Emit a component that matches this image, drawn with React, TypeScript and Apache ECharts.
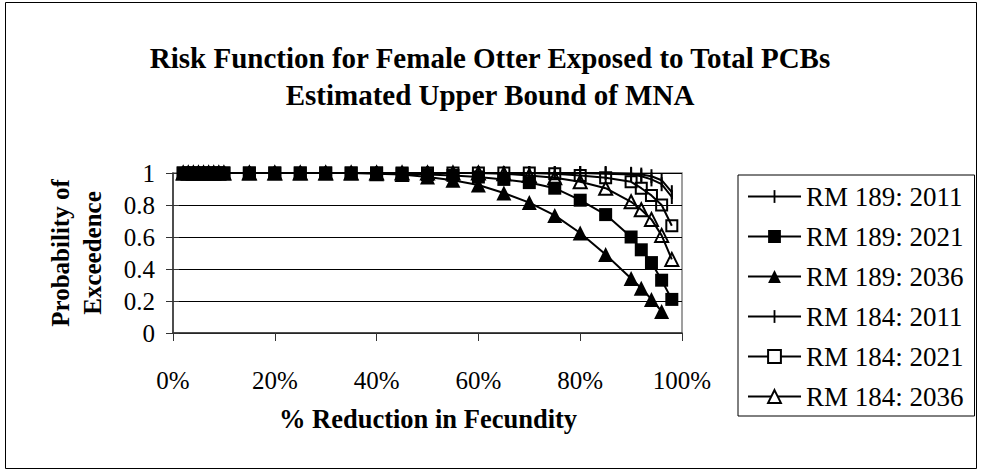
import React, { useEffect, useRef } from "react";
import * as echarts from "echarts";

const X_PCT = [2, 3, 4, 5, 6, 7, 8, 9, 10, 15, 20, 25, 30, 35, 40, 45, 50, 55, 60, 65, 70, 75, 80, 85, 90, 92, 94, 96, 98];
const RM189_2011 = [1, 1, 1, 1, 1, 1, 1, 1, 1, 1, 1, 1, 1, 1, 1, 1, 1, 1, 1, 1, 1, 1, 1, 0.995, 0.99, 0.98, 0.96, 0.93, 0.85];
const RM189_2021 = [1, 1, 1, 1, 1, 1, 1, 1, 1, 1, 1, 1, 1, 1, 1, 0.995, 0.99, 0.985, 0.975, 0.96, 0.94, 0.905, 0.83, 0.74, 0.6, 0.52, 0.44, 0.33, 0.21];
const RM189_2036 = [1, 1, 1, 1, 1, 1, 1, 1, 1, 1, 1, 1, 1, 1, 0.995, 0.99, 0.975, 0.955, 0.925, 0.875, 0.815, 0.735, 0.625, 0.49, 0.34, 0.28, 0.21, 0.135, null];
const RM184_2011 = [1, 1, 1, 1, 1, 1, 1, 1, 1, 1, 1, 1, 1, 1, 1, 1, 1, 1, 1, 1, 1, 1, 1, 1, 0.995, 0.99, 0.98, 0.955, 0.88];
const RM184_2021 = [1, 1, 1, 1, 1, 1, 1, 1, 1, 1, 1, 1, 1, 1, 1, 1, 1, 1, 1, 1, 1, 0.995, 0.985, 0.97, 0.945, 0.905, 0.86, 0.8, 0.67];
const RM184_2036 = [1, 1, 1, 1, 1, 1, 1, 1, 1, 1, 1, 1, 1, 1, 1, 1, 1, 1, 1, 0.995, 0.985, 0.97, 0.945, 0.905, 0.82, 0.77, 0.71, 0.61, 0.46];

const SERIES_NAMES = ["RM 189: 2011", "RM 189: 2021", "RM 189: 2036", "RM 184: 2011", "RM 184: 2021", "RM 184: 2036"];
const TITLE_LINES = ["Risk Function for Female Otter Exposed to Total PCBs", "Estimated Upper Bound of MNA"];
const X_TITLE = "% Reduction in Fecundity";
const Y_TITLE_LINES = ["Probability of", "Exceedence"];

const FONT = "'Liberation Serif', 'Times New Roman', serif";
const BAR = "path://M0,0 M14,0 M14,14 M0,14 M6,0 L8,0 L8,14 L6,14 Z";

export default function App() {
  const ref = useRef<HTMLDivElement>(null);
  useEffect(() => {
    if (!ref.current) return;
    const chart = echarts.init(ref.current, undefined, { renderer: "svg" });
    const pair = (ys: (number | null)[]) => X_PCT.map((x, i) => [x, ys[i]]);
    const styles = [
      { symbol: BAR, symbolSize: 14, color: "#000", borderWidth: 0, legendFill: "#000" },
      { symbol: "rect", symbolSize: 13, color: "#000", borderWidth: 0, legendFill: "#000" },
      { symbol: "triangle", symbolSize: 15, color: "#000", borderWidth: 0, legendFill: "#000" },
      { symbol: BAR, symbolSize: 14, color: "#000", borderWidth: 0, legendFill: "#000" },
      { symbol: "rect", symbolSize: 11, color: "rgba(0,0,0,0)", borderWidth: 2, legendFill: "#fff" },
      { symbol: "triangle", symbolSize: 13, color: "rgba(0,0,0,0)", borderWidth: 2, legendFill: "#fff" },
    ];
    const datas = [RM189_2011, RM189_2021, RM189_2036, RM184_2011, RM184_2021, RM184_2036];
    const series = SERIES_NAMES.map((name, i) => ({
      name,
      type: "line",
      data: pair(datas[i]),
      symbol: styles[i].symbol,
      symbolSize: styles[i].symbolSize,
      showAllSymbol: true,
      connectNulls: false,
      lineStyle: { color: "#000", width: 2 },
      itemStyle: { color: styles[i].color, borderColor: "#000", borderWidth: styles[i].borderWidth, opacity: 1 },
      emphasis: { disabled: true },
    }));
    chart.setOption({
      animation: false,
      backgroundColor: "#fff",
      grid: { left: 173, right: 299, top: 173, bottom: 139, show: true, borderColor: "#808080", borderWidth: 1.5 },
      xAxis: {
        type: "value",
        min: 0,
        max: 100,
        interval: 20,
        axisLine: { show: true, lineStyle: { color: "#333", width: 1.5 } },
        axisTick: { show: true, length: 8, lineStyle: { color: "#333" } },
        splitLine: { show: false },
        axisLabel: { formatter: (v: number) => v + "%", fontFamily: FONT, fontSize: 25, color: "#000", margin: 35 },
      },
      yAxis: [
        {
          type: "value",
          min: 0,
          max: 1,
          interval: 0.2,
          axisLine: { show: true, lineStyle: { color: "#333", width: 1.5 } },
          axisTick: { show: true, length: 7, lineStyle: { color: "#333" } },
          splitLine: { show: true, lineStyle: { color: "#000", width: 1 } },
          axisLabel: { fontFamily: FONT, fontSize: 25, color: "#000", margin: 18 },
        },
        {
          type: "value",
          position: "left",
          min: 0,
          max: 1,
          interval: 0.2,
          axisLine: { show: false },
          axisTick: { show: true, inside: true, length: 6, lineStyle: { color: "#333" } },
          splitLine: { show: false },
          axisLabel: { show: false },
        },
      ],
      legend: {
        orient: "vertical",
        left: 738,
        top: 175,
        padding: [8, 11, 6, 9],
        itemWidth: 53,
        itemHeight: 16,
        itemGap: 13,
        borderColor: "#000",
        borderWidth: 1,
        textStyle: { fontFamily: FONT, fontSize: 27, color: "#000", lineHeight: 27 },
        data: SERIES_NAMES.map((name, i) => ({ name, itemStyle: { color: styles[i].legendFill } })),
      },
      graphic: [
        { type: "rect", shape: { x: 5.5, y: 2.5, width: 971, height: 466 }, style: { fill: "none", stroke: "#000", lineWidth: 1 }, silent: true },
        { type: "text", x: 490, y: 58, style: { text: TITLE_LINES[0], font: `bold 29px ${FONT}`, fill: "#000", textAlign: "center", textVerticalAlign: "middle" } },
        { type: "text", x: 490, y: 95, style: { text: TITLE_LINES[1], font: `bold 29px ${FONT}`, fill: "#000", textAlign: "center", textVerticalAlign: "middle" } },
        { type: "text", x: 428, y: 419, style: { text: X_TITLE, font: `bold 26.5px ${FONT}`, fill: "#000", textAlign: "center", textVerticalAlign: "middle" } },
        { type: "text", x: 60, y: 253, rotation: Math.PI / 2, style: { text: Y_TITLE_LINES[0], font: `bold 25px ${FONT}`, fill: "#000", textAlign: "center", textVerticalAlign: "middle" } },
        { type: "text", x: 92, y: 253, rotation: Math.PI / 2, style: { text: Y_TITLE_LINES[1], font: `bold 25px ${FONT}`, fill: "#000", textAlign: "center", textVerticalAlign: "middle" } },
      ],
      series,
    } as any);
    return () => chart.dispose();
  }, []);
  return <div ref={ref} style={{ position: "absolute", left: 0, top: 0, width: 981, height: 472 }} />;
}
